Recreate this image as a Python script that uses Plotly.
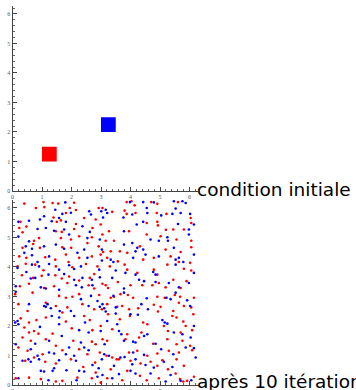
import plotly.graph_objects as go
import math

TWO_PI = 2 * math.pi

# ---- initial condition: two small squares (corner outlines) ----
red_square_x = [1.0, 1.5, 1.5, 1.0, 1.0]
red_square_y = [1.0, 1.0, 1.5, 1.5, 1.0]
blue_square_x = [3.0, 3.5, 3.5, 3.0, 3.0]
blue_square_y = [2.0, 2.0, 2.5, 2.5, 2.0]

# ---- after 10 iterations: scattered points ----
red_pts = [
    (0.40,6.15),(1.05,6.20),(1.36,6.17),(1.55,6.15),(2.09,6.18),(0.79,6.00),(1.08,6.03),(1.94,6.00),
    (2.15,5.93),(1.81,5.83),(2.92,6.00),(3.05,6.00),(1.39,5.68),(1.64,5.58),(1.50,5.53),(2.43,5.66),
    (2.82,5.61),(2.15,5.46),(0.27,5.53),(0.23,5.32),(0.47,5.37),(1.47,5.21),(1.67,5.19),(2.09,5.29),
    (2.71,5.32),(2.99,5.44),(0.34,5.18),(0.73,4.89),(0.90,4.98),(1.64,4.98),(1.98,4.93),(2.26,5.04),
    (2.69,5.01),(3.05,5.10),(0.34,4.65),(0.70,4.78),(0.93,4.65),(1.69,4.67),(1.99,4.65),(2.54,4.81),
    (2.92,4.70),(3.07,4.51),(0.23,4.36),(0.47,4.31),(1.11,4.33),(1.45,4.25),(1.81,4.42),(2.26,4.31),
    (2.69,4.36),(2.99,4.42),(0.17,4.02),(0.45,4.11),(0.77,4.08),(1.47,4.02),(1.90,4.17),(2.03,3.99),
    (2.49,4.10),(2.88,4.02),(1.05,3.89),(0.32,3.72),(0.70,3.63),(0.99,3.70),(1.45,3.72),(1.67,3.61),
    (1.92,3.68),(2.26,3.54),(2.77,3.76),(2.62,3.63),(0.25,3.35),(0.56,3.43),(1.07,3.29),(1.41,3.35),
    (1.86,3.46),(2.58,3.38),(2.77,3.27),(3.05,3.43),
    (3.87,6.20),(4.03,6.23),(4.14,6.09),(4.70,6.20),(4.91,6.14),(5.61,6.20),(3.38,5.87),(3.80,5.91),
    (3.87,5.80),(4.17,5.83),(4.89,5.83),(5.22,5.80),(6.04,5.66),(4.55,5.49),(4.91,5.53),(4.93,5.41),
    (5.45,5.27),(5.81,5.27),(6.06,5.49),(3.27,5.21),(3.95,5.21),(4.55,5.10),(5.20,5.26),(5.02,5.04),
    (5.56,4.93),(6.06,4.89),(3.16,4.89),(3.44,4.89),(3.33,4.53),(3.64,4.53),(3.89,4.48),(4.32,4.70),
    (5.19,4.59),(5.70,4.51),(6.06,4.67),(3.21,4.31),(3.57,4.19),(4.43,4.25),(4.79,4.31),(5.36,4.36),
    (5.64,4.17),(6.02,4.14),(3.30,4.02),(3.80,4.08),(3.89,3.91),(4.23,3.80),(4.79,3.91),(4.91,3.74),
    (5.25,4.08),(5.81,3.94),(6.06,3.88),(3.16,3.38),(3.24,3.29),(3.57,3.49),(4.00,3.38),(4.40,3.38),
    (4.74,3.38),(4.96,3.46),(5.19,3.31),(5.45,3.57),(5.70,3.29),(5.90,3.52),
    (0.09,3.08),(0.68,3.13),(1.58,3.02),(1.81,2.96),(2.03,2.99),(2.26,3.08),(2.94,3.05),(0.20,2.74),
    (0.51,2.51),(1.13,2.79),(1.47,2.68),(1.86,2.63),(2.37,2.74),(2.77,2.57),(3.03,2.57),(0.28,2.26),
    (0.56,2.12),(0.81,2.20),(1.13,2.29),(1.69,2.46),(1.81,2.15),(2.43,2.34),(2.62,2.20),(0.40,1.95),
    (0.73,1.83),(0.88,1.74),(0.56,1.78),(1.36,1.74),(2.01,1.92),(2.71,1.86),(2.99,2.00),(0.34,1.61),
    (0.62,1.50),(1.13,1.55),(1.47,1.33),(2.06,1.50),(2.69,1.47),(2.82,1.38),(3.05,1.55),(0.51,1.16),
    (0.20,1.27),(1.02,1.04),(1.69,1.18),(2.26,1.21),(2.54,1.04),(2.96,1.10),(0.43,0.82),(0.73,0.93),
    (1.11,0.79),(1.47,0.73),(1.98,0.87),(2.40,0.61),(2.80,0.76),(0.11,0.23),(0.56,0.25),(0.96,0.20),
    (1.47,0.12),(1.69,0.14),(2.20,0.25),(2.69,0.23),(2.82,0.42),(2.99,0.08),
    (3.21,2.74),(3.33,2.96),(3.44,2.99),(3.66,3.08),(3.91,3.05),(4.09,2.96),(4.91,2.99),(5.16,2.96),
    (5.50,3.05),(5.68,2.99),(6.15,2.96),(5.81,2.68),(3.55,2.65),(3.72,2.68),(3.95,2.57),(4.26,2.60),
    (4.79,2.72),(5.02,2.65),(5.45,2.51),(5.64,2.79),(6.06,2.63),(3.24,2.40),(3.64,2.23),(3.98,2.34),
    (4.43,2.12),(4.57,2.06),(4.93,2.49),(5.42,2.34),(5.56,2.29),(5.79,2.15),(6.13,2.40),(3.38,1.89),
    (3.89,1.72),(4.37,1.78),(5.13,2.00),(5.27,1.83),(5.70,1.78),(6.09,1.86),(5.87,2.00),(3.21,1.50),
    (3.83,1.55),(4.29,1.61),(4.77,1.40),(5.25,1.55),(5.56,1.38),(5.76,1.50),(6.02,1.33),(3.19,0.99),
    (3.38,0.93),(3.53,0.87),(3.95,1.10),(4.23,1.16),(4.57,0.99),(4.91,1.07),(5.30,1.16),(5.64,1.10),
    (6.09,1.18),(3.33,0.53),(3.61,0.87),(4.00,0.82),(4.34,0.73),(4.68,0.79),(4.91,0.65),(5.08,0.84),
    (5.27,0.53),(5.56,0.87),(5.81,0.65),(3.21,0.23),(3.72,0.16),(3.89,0.48),(4.32,0.31),(4.55,0.16),
    (4.96,0.23),(5.53,0.39),(5.68,0.20),(5.79,0.12),(5.92,0.14),(6.15,0.28),
]

blue_pts = [
    (1.79,6.19),(1.45,5.94),(1.69,5.80),(1.98,5.84),(2.60,5.89),(2.66,5.78),(3.01,5.89),(1.07,5.72),
    (0.93,5.61),(1.58,5.66),(1.33,5.55),(1.81,5.53),(3.07,5.68),(0.56,5.57),(0.20,5.53),(0.85,5.29),
    (1.13,5.32),(1.41,5.23),(1.75,5.27),(2.62,5.19),(2.37,5.38),(0.20,5.03),(0.56,4.87),(1.92,5.10),
    (2.54,4.98),(2.96,4.93),(0.45,4.70),(0.66,4.62),(1.07,4.70),(1.47,4.76),(1.75,4.62),(2.20,4.48),
    (2.43,4.59),(3.03,4.59),(0.40,4.48),(0.66,4.40),(0.85,4.17),(1.24,4.36),(2.54,4.31),(3.03,4.22),
    (0.17,3.97),(0.66,4.08),(0.90,4.02),(1.24,4.10),(1.58,3.91),(1.92,4.06),(2.09,3.93),(2.32,4.02),
    (2.94,3.91),(0.47,3.83),(0.62,3.61),(0.77,3.63),(1.22,3.74),(1.75,3.76),(2.09,3.57),(2.37,3.63),
    (2.69,3.57),(2.96,3.65),(0.11,3.35),(0.96,3.31),(1.13,3.27),(1.58,3.23),(2.15,3.38),(2.35,3.31),
    (2.71,3.38),
    (3.98,6.20),(4.43,6.20),(4.79,6.19),(4.55,6.00),(5.47,6.23),(5.76,6.23),(5.87,6.17),(3.16,5.94),
    (3.21,5.83),(3.76,5.68),(4.06,5.78),(4.57,5.83),(5.04,5.75),(5.42,5.80),(5.53,5.98),(5.70,5.83),
    (6.02,5.80),(4.43,5.53),(4.21,5.44),(5.61,5.46),(5.98,5.27),(6.15,5.44),(3.78,5.21),(4.68,4.93),
    (4.96,4.89),(5.25,5.01),(5.27,4.89),(5.98,5.10),(4.06,4.81),(4.23,4.65),(4.17,4.53),(3.33,4.25),
    (3.78,4.76),(4.43,4.59),(4.51,4.42),(5.47,4.65),(6.15,4.42),(3.42,4.17),(4.09,4.31),(4.96,4.36),
    (5.53,4.25),(5.64,4.31),(5.79,4.17),(3.50,3.88),(3.83,3.80),(4.17,3.74),(4.77,3.83),(4.85,3.74),
    (5.53,4.08),(6.15,3.80),(3.38,3.63),(4.29,3.57),(4.46,3.52),(4.85,3.49),(5.30,3.46),(5.64,3.31),
    (5.98,3.46),(3.78,3.27),
    (0.11,3.16),(1.07,2.68),(1.19,2.74),(2.32,2.91),(2.66,3.02),(2.88,2.85),(3.05,2.74),(0.56,2.74),
    (1.13,2.65),(1.30,2.60),(1.60,2.51),(1.98,2.51),(2.58,2.68),(2.96,2.65),(3.11,2.60),(0.09,2.12),
    (0.17,2.17),(1.33,2.34),(1.58,2.29),(2.09,2.34),(2.46,2.12),(0.20,2.06),(0.93,1.97),(1.58,2.06),
    (2.26,1.86),(2.58,1.78),(2.99,1.83),(0.11,1.38),(0.77,1.40),(1.24,1.50),(1.67,1.66),(1.92,1.27),
    (2.32,1.44),(2.43,1.27),(0.62,1.21),(0.85,0.99),(1.24,1.10),(1.41,1.07),(1.81,1.04),(2.09,0.99),
    (2.58,1.18),(3.11,1.04),(0.34,0.82),(0.54,0.87),(0.62,0.79),(0.90,0.87),(1.41,0.57),(1.36,0.48),
    (1.58,0.84),(2.15,0.82),(2.71,0.68),(2.92,0.57),(3.03,0.87),(0.20,0.23),(0.96,0.48),(1.07,0.46),
    (1.83,0.50),(2.26,0.48),(2.43,0.46),(2.88,0.28),(3.05,0.34),(1.22,0.16),(2.17,0.16),
    (3.42,3.02),(3.78,3.13),(4.55,2.94),(5.22,2.96),(5.36,2.91),(5.53,3.13),(5.92,2.87),(3.50,2.63),
    (4.00,2.40),(4.37,2.74),(4.59,2.57),(6.02,2.68),(3.16,2.49),(3.21,2.17),(3.50,2.42),(3.55,2.06),
    (4.25,2.38),(5.08,2.20),(5.16,2.12),(5.25,2.08),(3.61,1.83),(3.69,1.72),(4.46,1.66),(4.57,1.72),
    (5.47,1.78),(5.76,1.72),(6.15,2.00),(3.12,1.38),(3.78,1.50),(4.09,1.47),(4.17,1.44),(4.85,1.40),
    (6.04,1.61),(3.27,0.99),(3.80,0.95),(4.09,1.10),(4.46,1.02),(5.04,1.21),(5.45,1.04),(5.87,1.27),
    (6.15,1.25),(3.66,0.93),(4.06,0.70),(4.17,0.87),(4.51,0.68),(4.79,0.59),(5.13,0.79),(5.42,0.61),
    (6.21,0.93),(3.44,0.65),(3.38,0.23),(3.61,0.37),(4.00,0.48),(4.17,0.39),(4.68,0.39),(5.19,0.12),
    (5.36,0.34),(5.70,0.14),(6.06,0.16),
]

tick_vals = [0, 1, 2, 3, 4, 5, 6]
tick_text = ["0", "1", "2", "3", "4", "5", "6"]
label_top = "condition initiale"
label_bottom = "après 10 itérations"

RED = "rgb(255,0,0)"
BLUE = "rgb(0,0,255)"

W, H = 356, 390
fig = go.Figure()

fig.add_trace(go.Scatter(x=red_square_x, y=red_square_y, mode="none", fill="toself",
                         fillcolor=RED, xaxis="x", yaxis="y", hoverinfo="skip"))
fig.add_trace(go.Scatter(x=blue_square_x, y=blue_square_y, mode="none", fill="toself",
                         fillcolor=BLUE, xaxis="x", yaxis="y", hoverinfo="skip"))

fig.add_trace(go.Scatter(x=[p[0] for p in red_pts], y=[p[1] for p in red_pts], mode="markers",
                         marker=dict(color=RED, size=2.6), xaxis="x2", yaxis="y2"))
fig.add_trace(go.Scatter(x=[p[0] for p in blue_pts], y=[p[1] for p in blue_pts], mode="markers",
                         marker=dict(color=BLUE, size=2.6), xaxis="x2", yaxis="y2"))

x0 = 12.5
xlen = TWO_PI * 29.5
xdom = [x0 / W, (x0 + xlen) / W]
top_y0 = 191
bot_y0 = 385
ydom_top = [(H - top_y0) / H, (H - top_y0 + xlen) / H]
ydom_bot = [(H - bot_y0) / H, (H - bot_y0 + xlen) / H]

def ax(domain, anchor):
    return dict(domain=domain, anchor=anchor, range=[0, TWO_PI], showgrid=False, zeroline=False,
                showline=True, linecolor="#444", linewidth=1, ticks="inside", ticklen=4,
                tickcolor="#444", tickwidth=1, tickvals=tick_vals, ticktext=tick_text,
                tickfont=dict(family="Liberation Serif", size=6, color="#555"),
                minor=dict(dtick=0.2, tick0=0, ticks="inside", ticklen=2, tickcolor="#666"),
                fixedrange=True, automargin=False)

fig.update_layout(
    width=W, height=H, margin=dict(l=0, r=0, t=0, b=0),
    paper_bgcolor="white", plot_bgcolor="white", showlegend=False,
    xaxis=ax(xdom, "y"), yaxis=ax(ydom_top, "x"),
    xaxis2=ax(xdom, "y2"), yaxis2=ax(ydom_bot, "x2"),
)
fig.update_layout(xaxis=dict(ticklabelstandoff=0), xaxis2=dict(ticklabelstandoff=0))

fig.add_annotation(text=label_top, xref="paper", yref="paper", x=196 / W, y=(H - 197) / H,
                   xanchor="left", yanchor="bottom", showarrow=False, borderpad=0,
                   font=dict(family="DejaVu Sans", size=18.5, color="black"), yshift=-4)
fig.add_annotation(text=label_bottom, xref="paper", yref="paper", x=196 / W, y=(H - 389) / H,
                   xanchor="left", yanchor="bottom", showarrow=False, borderpad=0,
                   font=dict(family="DejaVu Sans", size=18.5, color="black"), yshift=-4)

fig.write_html("out.html")
